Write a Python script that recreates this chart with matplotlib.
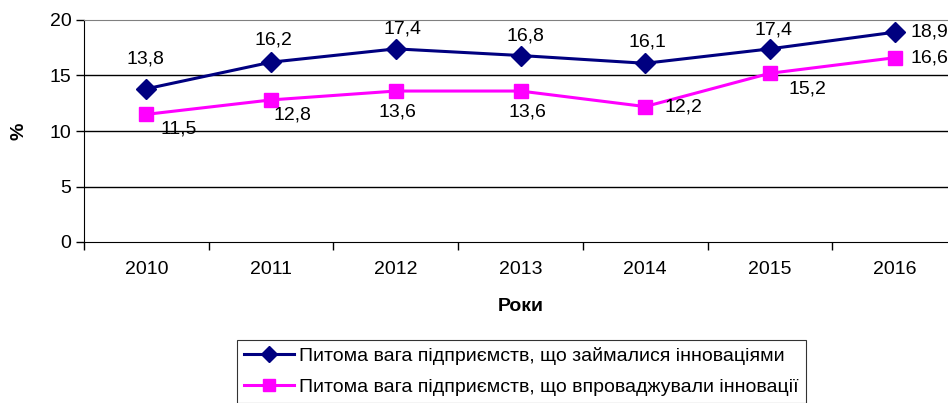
import matplotlib
matplotlib.use("Agg")
import matplotlib.pyplot as plt
import numpy as np

plt.rcParams['font.family'] = ['Liberation Sans', 'DejaVu Sans']

years = ['2010', '2011', '2012', '2013', '2014', '2015', '2016']
engaged = [13.8, 16.2, 17.4, 16.8, 16.1, 17.4, 18.9]
implemented = [11.5, 12.8, 13.6, 13.6, 12.2, 15.2, 16.6]
engaged_name = 'Питома вага підприємств, що займалися інноваціями'
implemented_name = 'Питома вага підприємств, що впроваджували інновації'

# label offsets in pixels (placement only)
engaged_off = [(-1, 30), (2, 22), (7, 20), (5, 20), (2, 21), (4, 19), (16, 0)]
engaged_ha = ['center'] * 6 + ['left']
impl_off = [(32, -15), (21, -15), (2, -21), (7, -21), (38, 0), (38, -16), (16, 0)]
impl_ha = ['center'] * 6 + ['left']

fs = 14

fig = plt.figure(figsize=(9.48, 4.03), dpi=100)
ax = fig.add_axes([84 / 948, 1 - 242 / 403, (957 - 84) / 948, 222 / 403])

x = np.arange(len(years))
ax.plot(x, engaged, color='#000080', lw=2.2, marker='D', ms=10, label=engaged_name, zorder=3)
ax.plot(x, implemented, color='#FF00FF', lw=2.2, marker='s', ms=10, label=implemented_name, zorder=3)

for i, v in enumerate(engaged):
    ax.annotate(f'{v:.1f}'.replace('.', ','), (x[i], v), xytext=engaged_off[i],
                textcoords='offset pixels', ha=engaged_ha[i], va='center', fontsize=fs)
for i, v in enumerate(implemented):
    ax.annotate(f'{v:.1f}'.replace('.', ','), (x[i], v), xytext=impl_off[i],
                textcoords='offset pixels', ha=impl_ha[i], va='center', fontsize=fs)

ax.set_ylim(0, 20)
ax.set_yticks([0, 5, 10, 15, 20])
ax.set_xlim(-0.5, len(years) - 0.5)
ax.set_xticks(x)
ax.set_xticklabels(years)
ax.set_xticks(np.arange(len(years) + 1) - 0.5, minor=True)
ax.tick_params(axis='x', which='major', length=0, pad=14, labelsize=fs)
ax.tick_params(axis='x', which='minor', length=6, width=1, direction='out')
ax.tick_params(axis='y', length=6, width=1, labelsize=fs, pad=3)

for y in [5, 10, 15]:
    ax.axhline(y, color='black', lw=1, zorder=1)
ax.spines['top'].set_color('#808080')
ax.spines['right'].set_visible(False)
for s in ['left', 'bottom']:
    ax.spines[s].set_color('black')

ax.set_xlabel('Роки', fontsize=fs, fontweight='bold', labelpad=14)
ax.set_ylabel('%', fontsize=fs, fontweight='bold', labelpad=16)

leg = fig.legend(loc='upper left', bbox_to_anchor=(237 / 948, 1 - 340 / 403),
                 fontsize=fs, frameon=True, fancybox=False, edgecolor='black',
                 handlelength=2.6, borderpad=0.35, borderaxespad=0, labelspacing=0.7,
                 handletextpad=0.25, markerscale=0.8)
leg.get_frame().set_linewidth(0.8)

fig.savefig('out.png', dpi=100)
